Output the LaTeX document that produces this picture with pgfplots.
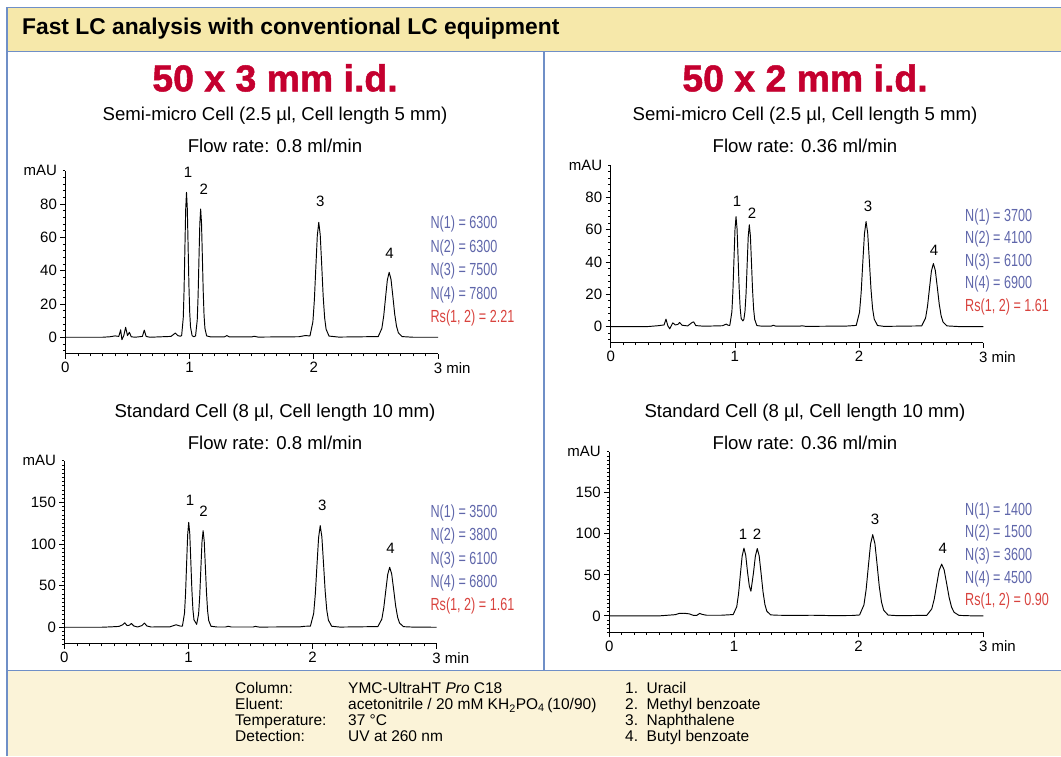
\documentclass[border=0pt]{standalone}
\usepackage{pgfplots}
\pgfplotsset{compat=1.18}
\usepackage{fontspec}
\setmainfont{Liberation Sans}
\newfontfamily\condfont{Liberation Sans}[FakeStretch=0.72]
\newfontfamily\heavy{Liberation Sans}[BoldFeatures={FakeBold=1.3}]
\definecolor{frame}{HTML}{6F8FC7}
\definecolor{hdr}{HTML}{F6E8AA}
\definecolor{band}{HTML}{FBF3D8}
\definecolor{ttl}{HTML}{C4002F}
\definecolor{nblue}{HTML}{5F66AA}
\definecolor{rsred}{HTML}{D8433E}
\newcommand{\fs}[1]{\fontsize{#1}{#1}\selectfont}
\tikzset{pk/.style={font=\fs{15}}}
% x, y of first line, spacing, values
\newcommand{\nblock}[8]{%
  \begin{scope}[every node/.style={anchor=west, inner sep=0pt, font=\condfont\fs{17.5}}]
  \node[text=nblue] at (#1,#2) {N(1) = #4};
  \node[text=nblue] at (#1,#2-#3) {N(2) = #5};
  \node[text=nblue] at (#1,#2-2*#3) {N(3) = #6};
  \node[text=nblue] at (#1,#2-3*#3) {N(4) = #7};
  \node[text=rsred] at (#1,#2-4*#3) {Rs(1, 2) = #8};
  \end{scope}
}
\pgfplotsset{
  chrom/.style={
    scale only axis, anchor=south west, axis lines*=left,
    xmin=0, xmax=3,
    xtick={0,1,2,3}, xticklabels={0,1,2,{3\rlap{\ min}}},
    minor xtick={0.1,0.2,0.3,0.4,0.5,0.6,0.7,0.8,0.9,1.1,1.2,1.3,1.4,1.5,1.6,1.7,1.8,1.9,2.1,2.2,2.3,2.4,2.5,2.6,2.7,2.8,2.9},
    tick align=outside, major tick length=5pt, minor tick length=2.5pt,
    every tick/.style={black, line width=0.8pt},
    minor tick style={black, line width=0.6pt},
    axis line style={line width=0.9pt},
    tick label style={font=\fs{15}},
    /pgf/number format/assume math mode=true,
    clip=false,
  },
  small/.style={ymin=-10, ymax=100, ytick={0,20,40,60,80},
    minor ytick={-8,-4,4,8,12,16,24,28,32,36,44,48,52,56,64,68,72,76,84,88,92,96,100}},
  big/.style={ymin=-20, ymax=200, ytick={0,50,100,150},
    minor ytick={-20,-15,-10,-5,5,10,15,20,25,30,35,40,45,55,60,65,70,75,80,85,90,95,105,110,115,120,125,130,135,140,145,155,160,165,170,175,180,185,190,195,200}},
  trace/.style={black, line width=0.95pt, line join=round, no markers},
}
\begin{document}
\begin{tikzpicture}[x=1pt,y=1pt]
\useasboundingbox (0,0) rectangle (1061,756);
% frame and bands
\fill[band] (7,0) rectangle (1061,85.3);
\fill[hdr] (7,704.3) rectangle (1061,748.7);
\draw[frame, line width=1.3pt] (1062,748.7) -- (7,748.7) -- (7,0);
\draw[frame, line width=1.3pt] (7,704.3) -- (1062,704.3);
\draw[frame, line width=1.3pt] (7,85.3) -- (1062,85.3);
\draw[frame, line width=1.3pt] (544,704.3) -- (544,85.3);
\node[anchor=west, inner sep=0pt, font=\bfseries\fs{22.8}] at (22,727) {Fast LC analysis with conventional LC equipment};
% titles
\node[text=ttl, font=\heavy\bfseries\fs{37.4}] at (275,678) {50 x 3 mm i.d.};
\node[text=ttl, font=\heavy\bfseries\fs{37.4}] at (805,678) {50 x 2 mm i.d.};
\node[font=\fs{18.6}] at (275,640) {Semi-micro Cell (2.5 µl, Cell length 5 mm)};
\node[font=\fs{18.6}] at (275,610) {Flow rate: 0.8 ml/min};
\node[font=\fs{18.6}] at (805,640) {Semi-micro Cell (2.5 µl, Cell length 5 mm)};
\node[font=\fs{18.6}] at (805,610) {Flow rate: 0.36 ml/min};
\node[font=\fs{18.6}] at (275,343) {Standard Cell (8 µl, Cell length 10 mm)};
\node[font=\fs{18.6}] at (275,313) {Flow rate: 0.8 ml/min};
\node[font=\fs{18.6}] at (805,343) {Standard Cell (8 µl, Cell length 10 mm)};
\node[font=\fs{18.6}] at (805,313) {Flow rate: 0.36 ml/min};

% ---------- top left ----------
\begin{axis}[chrom, small, at={(65.4pt,402.1pt)}, width=372.6pt, height=183.2pt]
\addplot[trace] coordinates {(0,0)(0.30,0)(0.36,0.3)(0.40,0.8)(0.43,0.5)(0.445,4.5)(0.455,-1.5)(0.47,1)(0.485,6)(0.50,1)(0.515,3)(0.53,0.3)(0.56,0)(0.62,0.5)(0.635,4.3)(0.65,0.5)(0.68,0)(0.85,0.5)(0.885,2.5)(0.905,1)(0.925,0.6)
(0.936,1.0)(0.949,11.7)(0.9555,28.3)(0.962,52.8)(0.9685,76.7)(0.975,87)(0.9815,77.4)(0.988,54.8)(0.9945,31.3)(1.001,14.8)(1.0075,6.1)(1.0205,0.9)(1.035,0.3)
(1.048,0.8)(1.0616,10.4)(1.0685,25.0)(1.0753,46.7)(1.0822,67.9)(1.089,77)(1.0959,68.5)(1.1027,48.5)(1.1096,27.7)(1.1164,13.1)(1.1233,5.4)(1.137,0.8)(1.17,0.2)
(1.28,0.2)(1.30,1.0)(1.32,0.2)(1.50,0.2)(1.52,0.6)(1.55,0.1)(1.88,0.3)(1.93,1.0)
(1.9692,0.8)(1.9928,9.3)(2.0046,22.4)(2.0164,41.9)(2.0282,60.9)(2.04,69)(2.0518,61.4)(2.0636,43.5)(2.0754,24.8)(2.0872,11.7)(2.099,4.8)(2.1226,0.7)(2.2,0.1)
(2.5185,0.4)(2.548,5.3)(2.5628,12.7)(2.5775,23.7)(2.5922,34.4)(2.607,39)(2.6218,34.7)(2.6365,24.6)(2.6512,14.0)(2.666,6.6)(2.6808,2.7)(2.7102,0.4)(2.8,0)(3,0)};
\node[anchor=east, font=\fs{15}] at (rel axis cs:0,1) [xshift=-5pt] {mAU};
\node[pk] at (axis cs:0.987,99) {1};
\node[pk] at (axis cs:1.114,88.6) {2};
\node[pk] at (axis cs:2.053,81.7) {3};
\node[pk] at (axis cs:2.61,50.4) {4};
\end{axis}

% ---------- top right ----------
\begin{axis}[chrom, small, at={(610.7pt,413.3pt)}, width=372.6pt, height=177.7pt]
\addplot[trace] coordinates {(0,0)(0.30,0)(0.38,0.5)(0.43,1)(0.445,4.6)(0.46,0.5)(0.475,-1.4)(0.49,0.8)(0.50,2.3)(0.52,1)(0.54,1.3)(0.555,2.5)(0.575,0.8)(0.62,0.4)(0.655,2.5)(0.668,2.9)(0.685,0.6)(0.75,0.2)(0.90,0.5)(0.93,1.5)(0.945,0.8)
(0.9592,0.75)(0.9758,9.2)(0.984,22.1)(0.9924,41.3)(1.0007,60.0)(1.009,68)(1.0173,60.5)(1.0256,42.8)(1.0339,24.5)(1.0422,11.6)(1.0505,5.0)(1.064,3.5)(1.0725,4.5)
(1.0812,9.5)(1.0899,20.5)(1.0986,38.2)(1.1073,55.6)(1.116,63)(1.1247,56.1)(1.1334,39.7)(1.1421,22.7)(1.1508,10.7)(1.1595,4.4)(1.1769,0.6)(1.22,0.2)
(1.29,0.2)(1.31,0.8)(1.33,0.2)(1.52,0.2)(1.54,0.5)(1.57,0.1)(1.90,0.3)
(1.9771,0.7)(2.0034,8.8)(2.0166,21.1)(2.0297,39.5)(2.0429,57.3)(2.056,65)(2.0692,57.9)(2.0823,41.0)(2.0955,23.4)(2.1086,11.1)(2.1218,4.6)(2.1481,0.65)(2.2,0.1)
(2.5041,0.4)(2.5354,5.3)(2.5511,12.7)(2.5667,23.7)(2.5824,34.4)(2.598,39)(2.6137,34.7)(2.6293,24.6)(2.645,14.0)(2.6606,6.6)(2.6763,2.7)(2.7076,0.4)(2.8,0)(3,0)};
\node[anchor=east, font=\fs{15}] at (rel axis cs:0,1) [xshift=-5pt] {mAU};
\node[pk] at (axis cs:1.017,77.3) {1};
\node[pk] at (axis cs:1.138,70.3) {2};
\node[pk] at (axis cs:2.072,74.6) {3};
\node[pk] at (axis cs:2.603,47.4) {4};
\end{axis}

% ---------- bottom left ----------
\begin{axis}[chrom, big, at={(64.4pt,112.1pt)}, width=372.2pt, height=183.2pt]
\addplot[trace] coordinates {(0,0)(0.30,0)(0.38,0.5)(0.44,1)(0.47,3)(0.486,5.4)(0.505,2)(0.525,2.5)(0.54,4.5)(0.56,1.5)(0.59,0.3)(0.625,2)(0.645,5)(0.665,1.5)(0.70,0.3)(0.85,0.5)(0.90,3)(0.93,1.5)
(0.9513,1.4)(0.9682,17.0)(0.9767,41.0)(0.9851,76.5)(0.9936,111.1)(1.002,126)(1.0105,112.1)(1.0189,79.4)(1.0274,45.4)(1.0358,21.4)(1.0443,9)(1.066,3.5)
(1.0818,16)(1.0909,37.7)(1.0999,70.4)(1.109,102.3)(1.118,116)(1.1271,103.2)(1.1361,73.1)(1.1452,41.8)(1.1542,19.7)(1.1633,8.1)(1.1814,1.2)(1.23,0.3)
(1.30,0.3)(1.32,1.2)(1.345,0.3)(1.52,0.3)(1.54,1)(1.57,0.2)(1.90,0.5)(1.94,1.2)
(1.9828,1.3)(2.0092,16.5)(2.0224,39.7)(2.0356,74.1)(2.0488,107.6)(2.062,122)(2.0752,108.6)(2.0884,76.9)(2.1016,43.9)(2.1148,20.7)(2.128,8.5)(2.1544,1.2)(2.22,0.2)
(2.5266,0.8)(2.5584,9.7)(2.5743,23.4)(2.5902,43.7)(2.6061,63.5)(2.622,72)(2.6379,64.1)(2.6538,45.4)(2.6697,25.9)(2.6856,12.2)(2.7015,5.0)(2.7333,0.7)(2.82,0.1)(3,0)};
\node[anchor=east, font=\fs{15}] at (rel axis cs:0,1) [xshift=-5pt] {mAU};
\node[pk] at (axis cs:1.013,152.5) {1};
\node[pk] at (axis cs:1.121,138.7) {2};
\node[pk] at (axis cs:2.078,146) {3};
\node[pk] at (axis cs:2.628,95) {4};
\end{axis}

% ---------- bottom right ----------
\begin{axis}[chrom, big, at={(609.3pt,123.7pt)}, width=374pt, height=180.6pt]
\addplot[trace] coordinates {(0,0)(0.40,0)(0.47,0.8)(0.53,1.5)(0.56,3)(0.60,3.2)(0.64,2.5)(0.675,0.6)(0.70,0.5)(0.725,3)(0.745,1.8)(0.78,0.8)(0.90,0.8)(0.98,1.5)
(0.9933,1.5)(1.0222,11.1)(1.0367,26.8)(1.0511,50.1)(1.0656,72.8)(1.08,82.5)(1.0945,73.6)(1.1089,53.2)(1.1234,36.2)(1.136,30)
(1.141,35.5)(1.1564,52.3)(1.1717,72.8)(1.187,82)(1.2023,73.0)(1.2176,51.7)(1.2329,29.5)(1.2482,13.9)(1.2635,5.7)(1.2941,1.2)(1.35,0.8)(1.5,0.5)(1.62,0.8)(1.8,0.3)(1.95,0.5)
(2.0074,1.1)(2.0426,13.4)(2.0602,32.2)(2.0778,60.1)(2.0954,87.3)(2.113,99)(2.1306,88.1)(2.1482,62.4)(2.1658,35.6)(2.1834,16.8)(2.201,6.9)(2.2362,1.0)(2.32,0.2)
(2.5469,0.7)(2.5866,8.5)(2.6065,20.5)(2.6263,38.2)(2.6462,55.6)(2.666,63)(2.6859,56.1)(2.7057,39.7)(2.7256,22.7)(2.7454,10.7)(2.7653,4.4)(2.805,0.6)(2.9,0.1)(3,0)};
\node[anchor=east, font=\fs{15}] at (rel axis cs:0,1) [xshift=-5pt] {mAU};
\node[pk] at (axis cs:1.072,99.5) {1};
\node[pk] at (axis cs:1.185,99.5) {2};
\node[pk] at (axis cs:2.131,117.8) {3};
\node[pk] at (axis cs:2.675,81.7) {4};
\end{axis}

% N blocks
\nblock{430.4}{532}{23.5}{6300}{6300}{7500}{7800}{2.21}
\nblock{965}{539.3}{22.5}{3700}{4100}{6100}{6900}{1.61}
\nblock{430.4}{243}{23.3}{3500}{3800}{6100}{6800}{1.61}
\nblock{965}{245.3}{22.6}{1400}{1500}{3600}{4500}{0.90}

% bottom info
\begin{scope}[every node/.style={anchor=base west, font=\fs{15.5}, inner sep=0pt}]
\node at (235,62.7) {Column:};
\node at (235,46.6) {Eluent:};
\node at (235,30.5) {Temperature:};
\node at (235,14.3) {Detection:};
\node at (348,62.7) {YMC-UltraHT \textit{Pro} C18};
\node at (348,46.6) {acetonitrile / 20 mM KH\textsubscript{2}PO\textsubscript{4}\,(10/90)};
\node at (348,30.5) {37 °C};
\node at (348,14.3) {UV at 260 nm};
\node at (625,62.7) {1.\ \ Uracil};
\node at (625,46.6) {2.\ \ Methyl benzoate};
\node at (625,30.5) {3.\ \ Naphthalene};
\node at (625,14.3) {4.\ \ Butyl benzoate};
\end{scope}
\end{tikzpicture}
\end{document}
